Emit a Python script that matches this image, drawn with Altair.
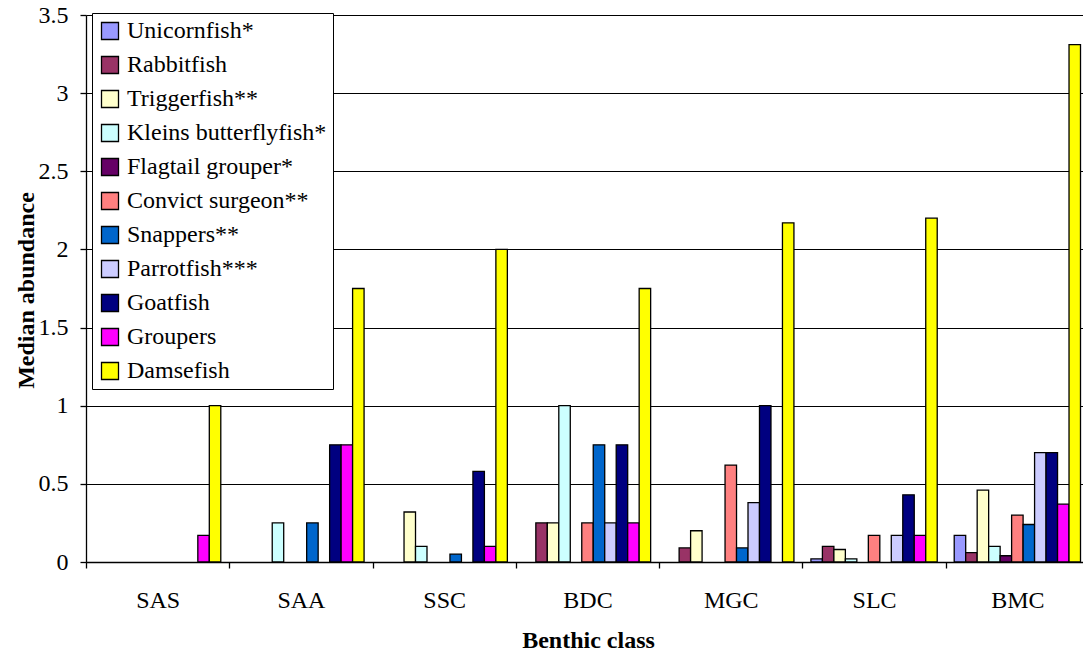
import altair as alt
import pandas as pd

# Benthic classes along the x axis
classes = ["SAS", "SAA", "SSC", "BDC", "MGC", "SLC", "BMC"]

# Fish groups (legend order) and their fill colours
species = [
    "Unicornfish*", "Rabbitfish", "Triggerfish**", "Kleins butterflyfish*",
    "Flagtail grouper*", "Convict surgeon**", "Snappers**", "Parrotfish***",
    "Goatfish", "Groupers", "Damsefish",
]
colors = [
    "#9999FF", "#993366", "#FFFFCC", "#CCFFFF", "#660066", "#FF8080",
    "#0066CC", "#CCCCFF", "#000080", "#FF00FF", "#FFFF00",
]

# Median abundance per benthic class (SAS, SAA, SSC, BDC, MGC, SLC, BMC)
unicornfish = [0, 0, 0, 0, 0, 0.02, 0.17]
rabbitfish = [0, 0, 0, 0.25, 0.09, 0.10, 0.06]
triggerfish = [0, 0, 0.32, 0.25, 0.20, 0.08, 0.46]
kleins_butterflyfish = [0, 0.25, 0.10, 1.0, 0, 0.02, 0.10]
flagtail_grouper = [0, 0, 0, 0, 0, 0, 0.04]
convict_surgeon = [0, 0, 0, 0.25, 0.62, 0.17, 0.30]
snappers = [0, 0.25, 0.05, 0.75, 0.09, 0, 0.24]
parrotfish = [0, 0, 0, 0.25, 0.38, 0.17, 0.70]
goatfish = [0, 0.75, 0.58, 0.75, 1.0, 0.43, 0.70]
groupers = [0.17, 0.75, 0.10, 0.25, 0, 0.17, 0.37]
damsefish = [1.0, 1.75, 2.0, 1.75, 2.17, 2.20, 3.31]

series = [
    unicornfish, rabbitfish, triggerfish, kleins_butterflyfish,
    flagtail_grouper, convict_surgeon, snappers, parrotfish,
    goatfish, groupers, damsefish,
]

rows = []
for name, vals in zip(species, series):
    for cls, v in zip(classes, vals):
        rows.append({"class": cls, "species": name, "value": v})
df = pd.DataFrame(rows)

font = "Liberation Serif"

chart = (
    alt.Chart(df)
    .transform_filter("datum.value > 0")
    .mark_bar(stroke="black", strokeWidth=1.3)
    .encode(
        x=alt.X(
            "class:N",
            sort=classes,
            scale=alt.Scale(range=[0, 1003], paddingInner=0, paddingOuter=0),
            axis=alt.Axis(
                title="Benthic class",
                labelAngle=0,
                tickBand="extent",
                grid=False,
                domainColor="black",
                domainWidth=1.3,
                tickColor="black",
                tickSize=6,
                tickWidth=1.3,
                labelFont=font,
                labelFontSize=24,
                labelColor="black",
                labelPadding=20,
                titleFont=font,
                titleFontSize=24,
                titleFontWeight="bold",
                titleColor="black",
                titleX=502,
                titleY=85,
                titleBaseline="alphabetic",
                titleAlign="center",
            ),
        ),
        xOffset=alt.XOffset(
            "species:N",
            sort=species,
            scale=alt.Scale(paddingInner=0, paddingOuter=0.74),
        ),
        y=alt.Y(
            "value:Q",
            scale=alt.Scale(domain=[0, 3.5], nice=False),
            axis=alt.Axis(
                title="Median abundance",
                values=[0, 0.5, 1, 1.5, 2, 2.5, 3, 3.5],
                format=".1~f",
                grid=True,
                gridColor="black",
                gridWidth=1.2,
                gridOpacity=1,
                domainColor="black",
                domainWidth=1.3,
                tickColor="black",
                tickSize=6,
                tickWidth=1.3,
                labelFont=font,
                labelFontSize=24,
                labelColor="black",
                labelPadding=12,
                titleFont=font,
                titleFontSize=24,
                titleFontWeight="bold",
                titleColor="black",
                titleAngle=270,
                titleX=-53,
                titleY=275,
                titleBaseline="alphabetic",
                titleAlign="center",
            ),
        ),
        color=alt.Color(
            "species:N",
            sort=species,
            scale=alt.Scale(domain=species, range=colors),
            legend=alt.Legend(
                title=None,
                orient="none",
                legendX=6,
                legendY=-2,
                direction="vertical",
                symbolType="square",
                symbolSize=289,
                symbolStrokeColor="black",
                symbolStrokeWidth=1.3,
                symbolOpacity=1,
                labelFont={"expr": "'Liberation Serif'"},
                labelFontSize=24,
                labelColor="black",
                labelOffset=5,
                labelLimit=400,
                rowPadding=10,
                padding=6,
                strokeColor="black",
                fillColor="white",
            ),
        ),
    )
    .properties(
        width=997,
        height=547,
        autosize=alt.AutoSizeParams(type="none"),
        padding={"left": 86, "top": 15, "right": 0, "bottom": 90},
        background="white",
    )
    .configure_view(strokeWidth=0)
)

chart.save("out.html", embed_options={"renderer": "svg", "actions": False})
